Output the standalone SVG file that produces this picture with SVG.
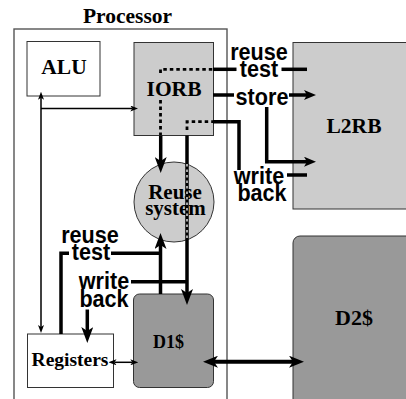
<svg xmlns="http://www.w3.org/2000/svg" width="406" height="399" viewBox="0 0 406 399">
<style>
.box{stroke:#333;stroke-width:1}
.lt{fill:#ccc}
.dk{fill:#999}
.wh{fill:#fff}
.ser{font-family:"Liberation Serif","Times New Roman",serif;font-weight:bold;fill:#000;text-anchor:middle}
.san{font-family:"Liberation Sans",Arial,sans-serif;font-weight:bold;font-size:24px;fill:#000;text-anchor:middle}
.thk{fill:none;stroke:#000;stroke-width:3.5}
.thn{fill:none;stroke:#000;stroke-width:1.5}
.dot{fill:none;stroke:#000;stroke-width:2.8;stroke-dasharray:3.5 3}
</style>
<defs>
<marker id="ah" markerUnits="userSpaceOnUse" markerWidth="16" markerHeight="12" viewBox="0 0 16 12" refX="4" refY="6" orient="auto-start-reverse"><path d="M0,0 L16,6 L0,12 L4,6 z" fill="#000"/></marker>
<marker id="as" markerUnits="userSpaceOnUse" markerWidth="12" markerHeight="10" viewBox="0 0 12 10" refX="3" refY="5" orient="auto-start-reverse"><path d="M0,0 L12,5 L0,10 L3,5 z" fill="#000"/></marker>
<marker id="ad" markerUnits="userSpaceOnUse" markerWidth="15" markerHeight="12" viewBox="0 0 15 12" refX="4" refY="6" orient="auto-start-reverse"><path d="M0,0 L15,6 L0,12 L4,6 z" fill="#000"/></marker>
<marker id="at" markerUnits="userSpaceOnUse" markerWidth="8" markerHeight="6" viewBox="0 0 8 6" refX="2" refY="3" orient="auto-start-reverse"><path d="M0,0 L8,3 L0,6 L2,3 z" fill="#000"/></marker>
</defs>
<rect width="406" height="399" fill="#fff"/>
<g id="processor">
<rect x="14" y="29" width="213" height="400" fill="none" stroke="#555" stroke-width="1.4"/>
<text class="ser" x="127.5" y="22.5" font-size="21.5">Processor</text>
</g>
<g id="alu">
<rect class="box wh" x="27" y="41.5" width="73" height="54.5"/>
<text class="ser" x="64" y="74" font-size="21.5">ALU</text>
</g>
<g id="iorb">
<rect class="box lt" x="134" y="42.5" width="79.5" height="93"/>
<text class="ser" x="174" y="95.5" font-size="21.5">IORB</text>
</g>
<g id="l2rb">
<rect class="box lt" x="293" y="42.5" width="130" height="166.5"/>
<text class="ser" x="354" y="132.5" font-size="21.5">L2RB</text>
</g>
<g id="reuse-system">
<circle class="box lt" cx="174" cy="202" r="40"/>
<text class="ser" x="175" y="199.3" font-size="21">Reuse</text>
<text class="ser" x="175.5" y="215" font-size="21">system</text>
</g>
<g id="d1">
<rect class="box dk" x="133.5" y="294" width="80" height="93.5" rx="6"/>
<text class="ser" x="168.5" y="348" font-size="18">D1$</text>
</g>
<g id="d2">
<rect class="box dk" x="293" y="236" width="130" height="180" rx="7"/>
<text class="ser" x="354" y="324.5" font-size="22">D2$</text>
</g>
<g id="registers">
<rect class="box wh" x="27.5" y="334" width="86" height="53.5"/>
<text class="ser" x="70" y="366" font-size="19.5">Registers</text>
</g>
<g id="connectors">
<line class="thn" x1="41" y1="97.7" x2="41" y2="327" marker-start="url(#at)" marker-end="url(#at)"/>
<line class="thn" x1="41" y1="108.5" x2="132.3" y2="108.5" marker-end="url(#at)"/>
<line class="thn" x1="114.5" y1="362.3" x2="132.3" y2="362.3" marker-start="url(#at)" marker-end="url(#at)"/>
<path class="dot" d="M160.5,73 V69.3 H213"/>
<path class="dot" d="M160.5,100 V135"/>
<line class="thk" x1="213" y1="69.3" x2="236.5" y2="69.3"/>
<line class="thk" x1="281.5" y1="69.3" x2="307" y2="69.3"/>
<text class="san" transform="matrix(0.9 0 0 1 259 60)">reuse</text>
<text class="san" transform="matrix(0.9 0 0 1 259 77)">test</text>
<line class="thk" x1="213" y1="95" x2="234" y2="95"/>
<line class="thk" x1="289" y1="95" x2="307" y2="95" marker-end="url(#as)"/>
<path class="thk" d="M266.7,107 V161.7 H307" marker-end="url(#as)"/>
<text class="san" transform="matrix(0.9 0 0 1 262 105)">store</text>
<path class="dot" d="M187,130 V121.7 H213"/>
<path class="thk" d="M213,121.7 H239 V170"/>
<line class="thk" x1="287" y1="175" x2="307" y2="175"/>
<text class="san" transform="matrix(0.9 0 0 1 259 184)">write</text>
<text class="san" transform="matrix(0.9 0 0 1 262 201)">back</text>
<line class="thk" x1="160.7" y1="135.5" x2="160.7" y2="161" marker-end="url(#ah)"/>
<line class="thk" x1="160.5" y1="294" x2="160.5" y2="245" marker-end="url(#ah)"/>
<line class="thk" x1="187" y1="135.5" x2="187" y2="293" marker-end="url(#ah)"/>
<line x1="187" y1="164" x2="187" y2="241" stroke="#fff" stroke-width="1.3" stroke-dasharray="2.5 3"/>
<path class="thk" d="M61,334 V253.3 H69"/>
<line class="thk" x1="111" y1="253.3" x2="160.5" y2="253.3"/>
<text class="san" transform="matrix(0.9 0 0 1 90 242.5)">reuse</text>
<text class="san" transform="matrix(0.9 0 0 1 91 259.5)">test</text>
<line class="thk" x1="131" y1="281.7" x2="187" y2="281.7"/>
<line class="thk" x1="87.3" y1="309.5" x2="87.3" y2="331" marker-end="url(#ah)"/>
<text class="san" transform="matrix(0.9 0 0 1 104 288.5)">write</text>
<text class="san" transform="matrix(0.9 0 0 1 104 306.5)">back</text>
<line stroke="#000" stroke-width="4" x1="214" y1="361.7" x2="293" y2="361.7" marker-start="url(#ad)" marker-end="url(#ad)"/>
</g>
</svg>
